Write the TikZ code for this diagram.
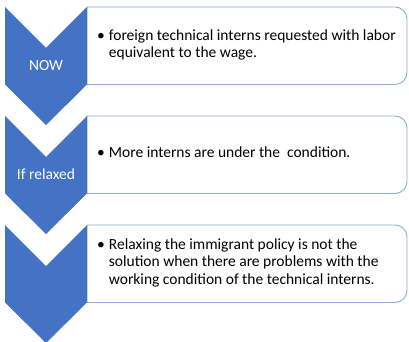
\documentclass[tikz,border=0pt]{standalone}
\usepackage{fontspec}
\setmainfont{Carlito}
\definecolor{chevblue}{HTML}{4472C4}
\definecolor{boxline}{HTML}{8FAADC}
\tikzset{
  chevron/.style={fill=chevblue},
  infobox/.style={draw=boxline, line width=0.9pt, fill=white},
  steplabel/.style={text=white, inner sep=0pt, font=\fontsize{15.5}{17}\selectfont},
  itemtext/.style={anchor=west, align=left, inner sep=0pt, font=\fontsize{15.5}{17.3}\selectfont},
}
\newcommand{\bulletlines}[1]{\textbullet\hspace{4pt}\begin{tabular}[t]{@{}l@{}}#1\end{tabular}}

\begin{document}
\begin{tikzpicture}[x=1pt,y=-1pt]
    \useasboundingbox (0,0) rectangle (409,342);
    \foreach \t/\txt [count=\i] in {
        7/{foreign technical interns requested with labor\\equivalent to the wage.},
        116/{More interns are under the\ \ condition.},
        225/{Relaxing the immigrant policy is not the\\solution when there are problems with the\\working condition of the technical interns.}}{
        \draw[infobox] (87,\t) [rounded corners=12pt] -- (407,\t) -- (407,\t+77.5) [sharp corners] -- (87,\t+77.5) -- cycle;
        \fill[chevron] (5,\t) -- (46,\t+41) -- (87,\t) -- (87,\t+77.5) -- (46,\t+118) -- (5,\t+77.5) -- cycle;
        \node[itemtext] (item-\i) at (97,\t+38.5) {\bulletlines{\txt}};
    }
    \node[steplabel] (now) at (46,66) {NOW};
    \node[steplabel] (relaxed) at (46,174) {If relaxed};
\end{tikzpicture}
\end{document}
